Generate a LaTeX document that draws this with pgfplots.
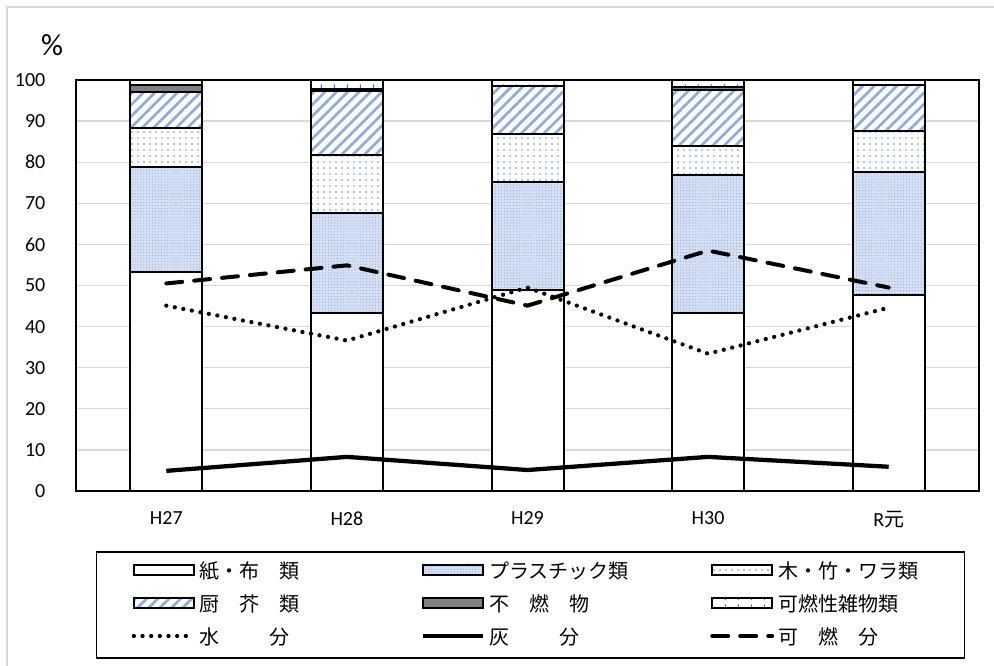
\documentclass[border=0pt]{standalone}
\usepackage{fontspec}
\setmainfont{Carlito}
\newfontfamily\jp{Noto Sans CJK JP}
\usepackage{pgfplots}
\pgfplotsset{compat=1.18}
\usepackage{pgfplotstable}
\usetikzlibrary{patterns.meta}

\definecolor{stripe}{RGB}{143,170,220}
\definecolor{dotblue}{RGB}{68,114,196}
\definecolor{plasticbg}{RGB}{214,224,244}
\definecolor{gridgray}{RGB}{217,217,217}
\definecolor{nonburn}{RGB}{128,128,128}

\tikzdeclarepattern{name=vticks, type=uncolored,
  bottom left={(0pt,0pt)}, top right={(10pt,6pt)}, tile size={(10pt,6pt)},
  code={\draw[line width=0.9pt] (5pt,1.5pt) -- (5pt,4.5pt);}}

% x: 0=H27 ... 4=R元
\pgfplotstableread{
x paper plastic wood kitchen noncomb misc water ash comb
0 53.4 25.4  9.5  8.8 1.8 1.1 45.1 4.9 50.5
1 43.2 24.4 14.1 15.7 0.5 2.1 36.6 8.3 54.9
2 49.0 26.1 11.7 11.7 0.1 1.4 49.5 5.1 45.1
3 43.2 33.6  7.1 13.7 0.8 1.6 33.4 8.3 58.5
4 47.6 30.0 10.0 11.1 0.0 1.3 44.6 5.9 49.5
}\data

\pgfplotsset{
  barimg/.style={legend image code/.code={\draw[##1] (0pt,-2.25pt) rectangle (45pt,5.25pt);}},
  barimgA/.style={legend image code/.code={\path (-11.25pt,0pt);\draw[##1] (0pt,-2.25pt) rectangle (45pt,5.25pt);}},
  lineimg/.style={legend image code/.code={\draw[##1] (0pt,1.5pt) -- (45pt,1.5pt);}},
  lineimgA/.style={legend image code/.code={\path (-11.25pt,0pt);\draw[##1] (0pt,1.5pt) -- (45pt,1.5pt);}},
  bar/.style={draw=black, line width=1.5pt},
}

\begin{document}
\begin{tikzpicture}
\useasboundingbox (-57pt,-131.25pt) rectangle (688.5pt,368.25pt);
\draw[gridgray, line width=1.2pt] (-51.75pt,-140pt) -- (-51.75pt,363pt) -- (700pt,363pt);
\begin{axis}[
  scale only axis, width=677.25pt, height=308.25pt,
  ybar stacked, bar width=54pt, reverse stacked plots=false,
  clip mode=individual,
  xmin=-0.5, xmax=4.5, ymin=0, ymax=100,
  xtick={0,1,2,3,4},
  xticklabels={H27,H28,H29,H30,{R{\jp 元}}},
  ytick={0,10,...,100},
  ymajorgrids, grid style={gridgray, line width=1pt},
  major tick length=0pt,
  axis line style={line width=1.5pt},
  tick label style={font=\fontsize{15}{18}\selectfont},
  /pgf/number format/assume math mode=true,
  yticklabel style={xshift=-19.5pt},
  xticklabel style={yshift=-12pt},
  legend columns=3, legend cell align=left,
  legend style={at={(0.5033,-0.1469)}, anchor=north, draw=black, line width=1pt,
    inner xsep=15pt, inner ysep=8pt, row sep=10.75pt, column sep=0pt,
    nodes={inner xsep=3pt, inner ysep=0pt, text height=12pt, text depth=2pt,
      font=\jp\fontsize{15}{18}\selectfont}},
]
\addplot[bar, fill=white, barimgA] table[x=x,y=paper]{\data};
\addlegendentry{\makebox[162.75pt][l]{紙・布　類}}
\addplot[bar, preaction={fill=plasticbg}, pattern={Dots[distance=2.2pt, radius=0.45pt]}, pattern color=stripe, barimg] table[x=x,y=plastic]{\data};
\addlegendentry{\makebox[162.75pt][l]{プラスチック類}}
\addplot[bar, preaction={fill=white}, pattern={Dots[distance=4.5pt, radius=0.7pt]}, pattern color=dotblue!80, barimg] table[x=x,y=wood]{\data};
\addlegendentry{\makebox[121.5pt][l]{木・竹・ワラ類}}
\addplot[bar, preaction={fill=white}, pattern={Lines[angle=45, distance=6pt, line width=2pt]}, pattern color=stripe, barimgA] table[x=x,y=kitchen]{\data};
\addlegendentry{\makebox[162.75pt][l]{厨　芥　類}}
\addplot[bar, fill=nonburn, barimg] table[x=x,y=noncomb]{\data};
\addlegendentry{\makebox[162.75pt][l]{不　燃　物}}
\addplot[bar, preaction={fill=white}, pattern=vticks, pattern color=dotblue, barimg] table[x=x,y=misc]{\data};
\addlegendentry{\makebox[121.5pt][l]{可燃性雑物類}}
\addplot[sharp plot, stack plots=false, black, line width=3.2pt, line cap=round, dash pattern=on 0pt off 6.5pt, lineimgA] table[x=x,y=water]{\data};
\addlegendentry{\makebox[162.75pt][l]{水\hspace{2.5em}分}}
\addplot[sharp plot, stack plots=false, black, line width=3.2pt, lineimg] table[x=x,y=ash]{\data};
\addlegendentry{\makebox[162.75pt][l]{灰\hspace{2.5em}分}}
\addplot[sharp plot, stack plots=false, black, line width=3pt, line cap=round, dash pattern=on 12pt off 9pt, lineimg] table[x=x,y=comb]{\data};
\addlegendentry{\makebox[121.5pt][l]{可　燃　分}}
\node[font=\fontsize{23}{26}\selectfont] at (rel axis cs:0,1) [xshift=-18pt, yshift=26.25pt] {\%};
\end{axis}
\end{tikzpicture}
\end{document}
